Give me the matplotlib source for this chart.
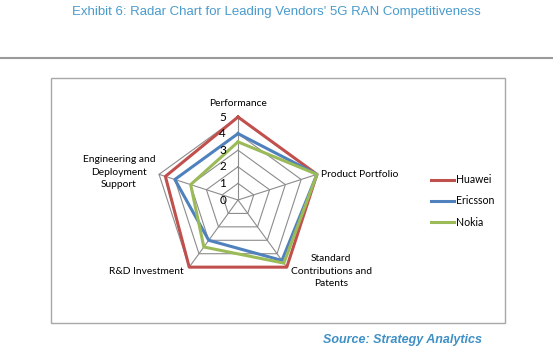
import numpy as np
import matplotlib
matplotlib.use('Agg')
import matplotlib.pyplot as plt
from matplotlib.patches import Rectangle
from matplotlib.lines import Line2D

# categories and scores
categories = ['Performance', 'Product Portfolio', 'Standard\nContributions and\nPatents',
              'R&D Investment', 'Engineering and\nDeployment\nSupport']
huawei = [5, 5, 5, 5, 4.6]
ericsson = [4, 5, 4.5, 3, 4]
nokia = [3.5, 5, 4.7, 3.5, 3]
vendors = ['Huawei', 'Ericsson', 'Nokia']
colors = ['#C0504D', '#4F81BD', '#9BBB59']
levels = [0, 1, 2, 3, 4, 5]

W, H = 553, 351
fig = plt.figure(figsize=(W / 100, H / 100), dpi=100)

# page decorations
fig.text(276 / W, 1 - 12 / H, "Exhibit 6: Radar Chart for Leading Vendors' 5G RAN Competitiveness",
         ha='center', va='center', fontsize=9.5, color='#4A9BCB', family='Liberation Sans')
fig.add_artist(Line2D([0, 1], [1 - 58 / H, 1 - 58 / H], color='#9A9A9A', lw=1.5,
                      transform=fig.transFigure))
fig.add_artist(Rectangle((51 / W, 1 - 323 / H), (505 - 51) / W, (323 - 78) / H,
                         transform=fig.transFigure, fill=False, edgecolor='#A8A8A8', lw=1))
fig.text(482 / W, 1 - 340 / H, 'Source: Strategy Analytics', ha='right', va='center',
         fontsize=9, color='#3E90C6', fontweight='bold', style='italic', family='Liberation Sans')

# radar axes: centre (238, 200) px, radius 83 px
cx, cy, R = 238, 200, 83
ax = fig.add_axes([(cx - R) / W, 1 - (cy + R) / H, 2 * R / W, 2 * R / H], projection='polar')
ax.set_theta_offset(np.pi / 2)
ax.set_theta_direction(-1)
ax.set_ylim(0, 5)
ax.grid(False)
ax.spines['polar'].set_visible(False)
ax.set_xticks([])
ax.set_yticks([])
ax.patch.set_alpha(0)

n = len(categories)
theta = np.linspace(0, 2 * np.pi, n, endpoint=False)
theta_c = np.append(theta, theta[0])

for lv in levels[1:]:
    ax.plot(theta_c, [lv] * (n + 1), color='#8C8C8C', lw=0.8, clip_on=False, zorder=1)
for t in theta:
    ax.plot([t, t], [0, 5], color='#8C8C8C', lw=0.8, clip_on=False, zorder=1)

for name, vals, c in zip(vendors, [huawei, ericsson, nokia], colors):
    ax.plot(theta_c, vals + vals[:1], color=c, lw=2.2, label=name, clip_on=False, zorder=3)

for lv in levels:
    ax.annotate(str(lv), xy=(0, lv), xytext=(-11, 0), textcoords='offset points',
                ha='center', va='center', fontsize=8.5, family='Lato', zorder=4)

label_pos = [((0, 9.5), 'center'), ((3, 0), 'left'), ((32, -3), 'center'),
             ((-4, -3), 'right'), ((-29, 1.5), 'center')]
for t, lab, (off, ha) in zip(theta, categories, label_pos):
    ax.annotate(lab, xy=(t, 5), xytext=off, textcoords='offset points', ha=ha, va='center',
                fontsize=7.4, family='Lato', linespacing=1.5)

fig.legend(loc='center left', bbox_to_anchor=(431 / W, 1 - 201 / H), frameon=False,
           prop={'family': 'Lato', 'size': 7.6}, handlelength=2.2, handletextpad=0.2,
           labelspacing=0.95, borderpad=0, borderaxespad=0)

fig.savefig('out.png', dpi=100)
